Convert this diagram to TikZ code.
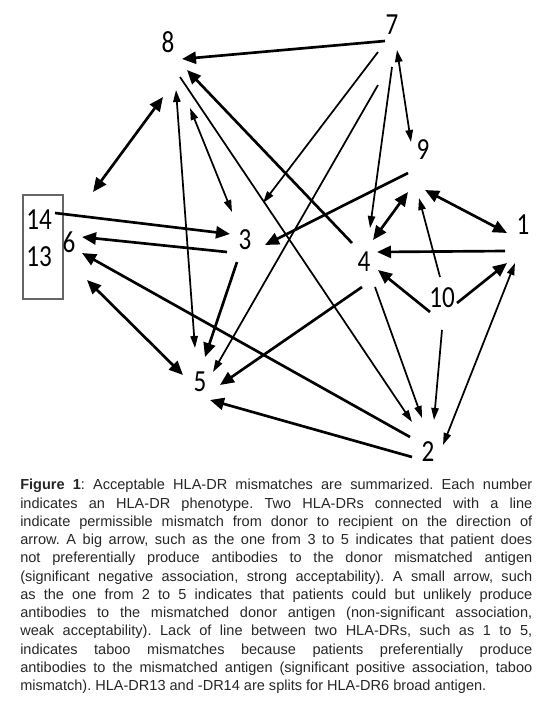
\documentclass[tikz,border=0pt]{standalone}
\usepackage{fontspec}
\setmainfont{Liberation Sans}
\newfontfamily\numfont[FakeStretch=0.82]{Carlito}
\usetikzlibrary{arrows.meta, calc}
\tikzset{
	num/.style      ={font=\numfont\fontsize{23}{23}\selectfont, inner sep=0pt},
	splitbox/.style ={rectangle, draw=black!60, line width=0.9pt, minimum width=30pt, minimum height=78pt, inner sep=0pt},
	big/.style      ={-{Triangle[length=10.5pt, width=9pt]}, line width=2pt},
	bigboth/.style  ={{Triangle[length=10.5pt, width=9pt]}-{Triangle[length=10.5pt, width=9pt]}, line width=2pt},
	small/.style    ={-{Triangle[length=9pt, width=5.5pt]}, line width=1.3pt},
	smallboth/.style={{Triangle[length=9pt, width=5.5pt]}-{Triangle[length=9pt, width=5.5pt]}, line width=1.3pt},
	caption/.style  ={anchor=north west, inner sep=0pt, text width=384pt, align=justify, text=black!85, font=\fontsize{10.9}{13.7}\selectfont\frenchspacing},
}
\begin{document}
\begin{tikzpicture}[x=0.75pt, y=-0.75pt]
	\useasboundingbox (0,0) rectangle (550,704);
	% phenotypes
	\node[splitbox] (split) at (43,247) {};
	\node[num] (n14) at (39,220) {14};
	\node[num] (n13) at (39,257) {13};
	\node[num] (n6) at (69,242) {6};
	\node[num] (n8) at (168,42) {8};
	\node[num] (n7) at (392,25) {7};
	\node[num] (n9) at (423,150) {9};
	\node[num] (n1) at (523,225) {1};
	\node[num] (n3) at (245,240) {3};
	\node[num] (n4) at (364,262) {4};
	\node[num] (n10) at (442,298) {10};
	\node[num] (n5) at (200,382) {5};
	\node[num] (n2) at (428,452) {2};
	% big arrows
	\draw[big] ($(n7)+(-7,16)$) -- ($(n8)+(14,17)$);
	\draw[big] ($(n4)+(-12,-19)$) -- ($(n8)+(19,28)$);
	\draw[big] ($(n9)+(-15,23)$) -- ($(n3)+(20,5)$);
	\draw[big] ($(n1)+(-18,26)$) -- ($(n4)+(13,-10)$);
	\draw[big] ($(n10)+(-12,14)$) -- ($(n4)+(14,8)$);
	\draw[big] ($(n10)+(15,5)$) -- ($(n1)+(-16,38)$);
	\draw[big] ($(n4)+(-2,25)$) -- ($(n5)+(20,3)$);
	\draw[big] ($(n2)+(-16,5)$) -- ($(n5)+(10,18)$);
	\draw[big] ($(n2)+(-18,-15)$) -- ($(n6)+(13,11)$);
	\draw[big] ($(n3)+(-18,12)$) -- ($(n6)+(13,-5)$);
	\draw[big] ($(n14)+(16,-7)$) -- ($(n3)+(-15,-6)$);
	\draw[big] ($(n3)+(-8,22)$) -- ($(n5)+(5,-25)$);
	\draw[bigboth] ($(n8)+(-5,55)$) -- ($(n6)+(24,-50)$);
	\draw[bigboth] ($(n9)+(-15,42)$) -- ($(n4)+(9,-22)$);
	\draw[bigboth] ($(n9)+(2,40)$) -- ($(n1)+(-16,8)$);
	\draw[bigboth] ($(n6)+(18,38)$) -- ($(n5)+(-17,-7)$);
	% small arrows
	\draw[small] ($(n8)+(12,35)$) -- ($(n2)+(-16,-30)$);
	\draw[small] ($(n7)+(-14,27)$) -- ($(n3)+(18,-37)$);
	\draw[small] ($(n7)+(-14,60)$) -- ($(n5)+(13,-10)$);
	\draw[small] ($(n7)+(0,42)$) -- ($(n4)+(6,-34)$);
	\draw[small] ($(n10)+(-2,-21)$) -- ($(n9)+(-4,48)$);
	\draw[small] ($(n10)+(0,32)$) -- ($(n2)+(6,-32)$);
	\draw[small] ($(n4)+(11,25)$) -- ($(n2)+(-6,-34)$);
	\draw[smallboth] ($(n8)+(8,48)$) -- ($(n5)+(-5,-34)$);
	\draw[smallboth] ($(n8)+(22,66)$) -- ($(n3)+(-13,-28)$);
	\draw[smallboth] ($(n7)+(5,25)$) -- ($(n9)+(-12,-8)$);
	\draw[smallboth] ($(n1)+(-8,38)$) -- ($(n2)+(15,-7)$);
	% caption
	\node[caption] (cap) at (20,479) {\textbf{Figure 1}: Acceptable HLA-DR mismatches are summarized. Each number\linebreak
		indicates an HLA-DR phenotype. Two HLA-DRs connected with a line\linebreak
		indicate permissible mismatch from donor to recipient on the direction of\linebreak
		arrow. A big arrow, such as the one from 3 to 5 indicates that patient does\linebreak
		not preferentially produce antibodies to the donor mismatched antigen\linebreak
		(significant negative association, strong acceptability). A small arrow, such\linebreak
		as the one from 2 to 5 indicates that patients could but unlikely produce\linebreak
		antibodies to the mismatched donor antigen (non-significant association,\linebreak
		weak acceptability). Lack of line between two HLA-DRs, such as 1 to 5,\linebreak
		indicates taboo mismatches because patients preferentially produce\linebreak
		antibodies to the mismatched antigen (significant positive association, taboo\linebreak
		mismatch). HLA-DR13 and -DR14 are splits for HLA-DR6 broad antigen.};
\end{tikzpicture}
\end{document}
